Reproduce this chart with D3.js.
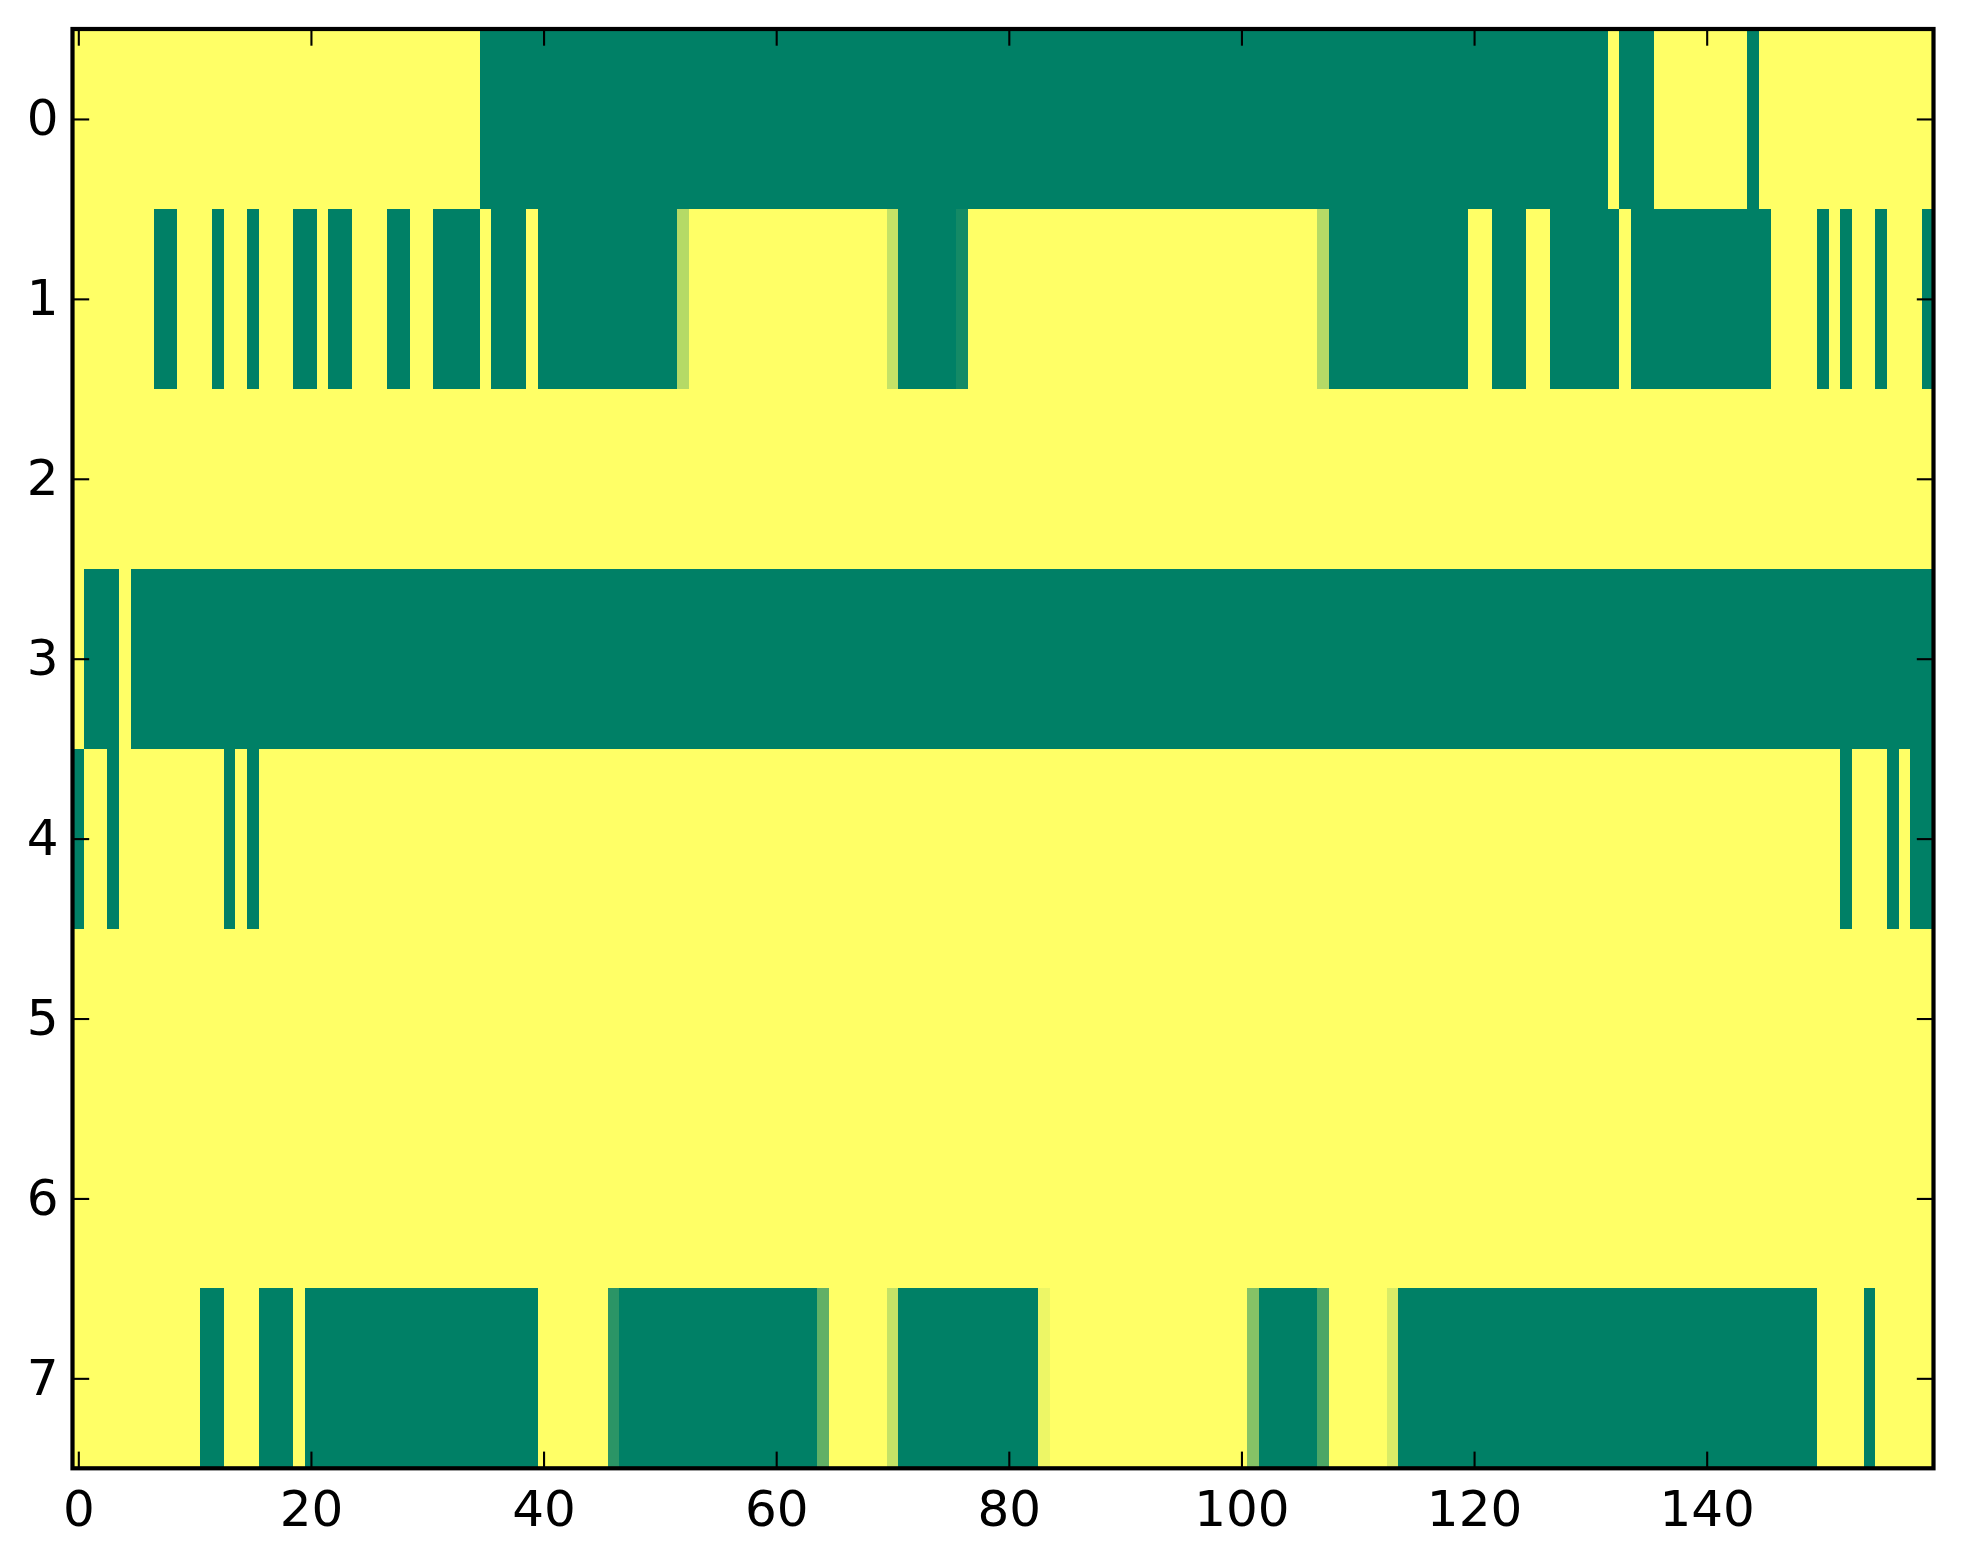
<!DOCTYPE html>
<html>
<head>
<meta charset="utf-8">
<script src="https://cdn.jsdelivr.net/npm/d3@7"></script>
<style>
  html, body { margin: 0; padding: 0; background: #fff; }
  svg { display: block; }
</style>
</head>
<body>
<div id="chart"></div>
<script>
// each row as runs of [value, count], 160 columns per row
let row0 = [[1, 35], [0, 97], [1, 1], [0, 3], [1, 8], [0, 1], [1, 15]];
let row1 = [[1, 7], [0, 2], [1, 3], [0, 1], [1, 2], [0, 1], [1, 3], [0, 2], [1, 1], [0, 2],
  [1, 3], [0, 2], [1, 2], [0, 4], [1, 1], [0, 3], [1, 1], [0, 12], [0.71, 1], [1, 17],
  [0.77, 1], [0, 5], [0.08, 1], [1, 30], [0.71, 1], [0, 12], [1, 2], [0, 3], [1, 2], [0, 6],
  [1, 1], [0, 12], [1, 4], [0, 1], [1, 1], [0, 1], [1, 2], [0, 1], [1, 3], [0, 1]];
let row2 = [[1, 160]];
let row3 = [[1, 1], [0, 3], [1, 1], [0, 155]];
let row4 = [[0, 1], [1, 2], [0, 1], [1, 9], [0, 1], [1, 1], [0, 1], [1, 136], [0, 1], [1, 3],
  [0, 1], [1, 1], [0, 2]];
let row5 = [[1, 160]];
let row6 = [[1, 160]];
let row7 = [[1, 11], [0, 2], [1, 3], [0, 3], [1, 1], [0, 20], [1, 6], [0.17, 1], [0, 17], [0.38, 1],
  [1, 5], [0.77, 1], [0, 12], [0.93, 1], [1, 17], [0.52, 1], [0, 5], [0.3, 1], [1, 5], [0.85, 1],
  [0, 36], [1, 4], [0, 1], [1, 5]];
let rows = [row0, row1, row2, row3, row4, row5, row6, row7];

let xTicks = [0, 20, 40, 60, 80, 100, 120, 140];
let yTicks = [0, 1, 2, 3, 4, 5, 6, 7];

// unpack runs into cells
let cells = [];
rows.forEach(function (runs, r) {
  let c = 0;
  runs.forEach(function (run) {
    for (let k = 0; k < run[1]; k++) {
      cells.push({ row: r, col: c, v: run[0] });
      c++;
    }
  });
});

// matplotlib "summer" colormap
function summer(v) {
  return d3.rgb(v * 255, (0.5 + 0.5 * v) * 255, 0.4 * 255).toString();
}

const width = 1963, height = 1564;
const margin = { left: 72.5, right: 1933.5, top: 29, bottom: 1468.3 };
const tickLen = 16.7;

let x = d3.scaleLinear().domain([-0.5, 159.5]).range([margin.left, margin.right]);
let y = d3.scaleLinear().domain([-0.5, 7.5]).range([margin.top, margin.bottom]);

let svg = d3.select("#chart").append("svg")
  .attr("width", width)
  .attr("height", height);

svg.append("g")
  .attr("shape-rendering", "crispEdges")
  .selectAll("rect")
  .data(cells)
  .join("rect")
  .attr("x", d => x(d.col - 0.5))
  .attr("y", d => y(d.row - 0.5))
  .attr("width", d => x(d.col + 0.5) - x(d.col - 0.5) + 0.4)
  .attr("height", d => y(d.row + 0.5) - y(d.row - 0.5) + 0.4)
  .attr("fill", d => summer(d.v));

function styleAxis(g) {
  g.select(".domain").remove();
  g.selectAll(".tick line").attr("stroke", "#000").attr("stroke-width", 2.1);
  g.selectAll(".tick text")
    .attr("fill", "#000")
    .attr("font-family", "DejaVu Sans")
    .attr("font-size", "50px");
}

svg.append("g")
  .attr("transform", `translate(0,${margin.bottom})`)
  .call(d3.axisBottom(x).tickValues(xTicks).tickSize(-tickLen).tickPadding(22.5))
  .call(styleAxis);

svg.append("g")
  .attr("transform", `translate(0,${margin.top})`)
  .call(d3.axisTop(x).tickValues(xTicks).tickSize(-tickLen).tickFormat(""))
  .call(styleAxis);

svg.append("g")
  .attr("transform", `translate(${margin.left},0)`)
  .call(d3.axisLeft(y).tickValues(yTicks).tickSize(-tickLen).tickPadding(14))
  .call(styleAxis);

svg.append("g")
  .attr("transform", `translate(${margin.right},0)`)
  .call(d3.axisRight(y).tickValues(yTicks).tickSize(-tickLen).tickFormat(""))
  .call(styleAxis);

svg.append("rect")
  .attr("x", margin.left)
  .attr("y", margin.top)
  .attr("width", margin.right - margin.left)
  .attr("height", margin.bottom - margin.top)
  .attr("fill", "none")
  .attr("stroke", "#000")
  .attr("stroke-width", 4.2);
</script>
</body>
</html>
